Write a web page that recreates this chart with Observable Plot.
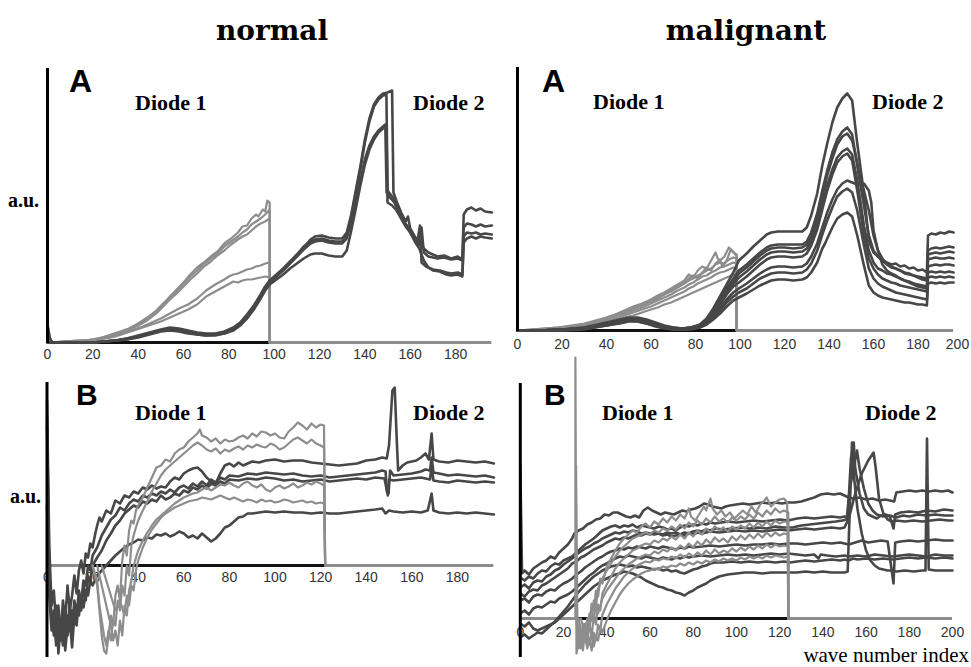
<!DOCTYPE html>
<html>
<head>
<meta charset="utf-8">
<script src="https://cdn.jsdelivr.net/npm/d3@7"></script>
<script src="https://cdn.jsdelivr.net/npm/@observablehq/plot@0.6"></script>
<style>
  html, body { margin: 0; padding: 0; background: #fff; }
  #wrap { position: relative; width: 971px; height: 667px; overflow: hidden; background: #fff; }
  #wrap > div.p { position: absolute; }
  #labels { position: absolute; left: 0; top: 0; pointer-events: none; }
</style>
</head>
<body>
<div id="wrap"></div>
<script>
// ---------------- DATA (arbitrary units) ----------------
const normTicks = [0, 20, 40, 60, 80, 100, 120, 140, 160, 180];
const maligTicks = [0, 20, 40, 60, 80, 100, 120, 140, 160, 180, 200];

// ---- normal, A ----
const normA_g1 = [[0,0],[4,0],[8,1],[12,1],[16,2],[20,3],[24,5],[28,7],[32,10],[36,14],[40,18],[44,24],[48,31],[51,38],[54,46],[57,53],[60,60],[63,68],[66,75],[69,80],[72,86],[75,91],[78,99],[81,104],[84,110],[86,116],[88,117],[90,124],[92,128],[93,126],[95,133],[96,131],[97,142],[98,140],[98,0]];
const normA_g2 = [[0,0],[4,0],[8,1],[12,2],[16,2],[20,3],[24,5],[28,8],[32,11],[36,14],[40,19],[44,25],[48,32],[51,39],[54,45],[57,51],[60,59],[63,66],[66,72],[69,79],[72,84],[75,89],[78,96],[81,101],[84,106],[86,110],[88,113],[90,118],[92,121],[94,124],[96,128],[98,133],[98,0]];
const normA_g3 = [[0,0],[8,1],[16,2],[20,3],[24,4],[28,7],[32,10],[36,13],[40,17],[44,22],[48,29],[51,36],[54,43],[57,49],[60,56],[63,63],[66,69],[69,76],[72,81],[75,87],[78,92],[81,98],[84,103],[86,106],[88,108],[90,112],[92,116],[94,119],[96,121],[98,124],[98,0]];
const normA_g4 = [[0,0],[8,1],[16,2],[22,3],[26,5],[30,7],[34,10],[38,13],[42,16],[46,20],[50,24],[54,29],[58,34],[62,38],[66,44],[70,52],[74,58],[78,63],[80,66],[82,68],[84,69],[86,71],[88,73],[90,74],[92,76],[94,77],[96,79],[98,80],[98,0]];
const normA_g5 = [[0,0],[8,1],[16,2],[22,3],[26,4],[30,6],[34,9],[38,12],[42,15],[46,18],[50,21],[54,25],[58,29],[62,33],[66,38],[70,46],[74,51],[78,56],[82,61],[84,60],[86,62],[88,63],[90,63],[92,64],[94,65],[96,66],[98,65],[98,0]];
const normA_d1 = [[0,18],[1,5],[2,0],[8,0],[14,0],[20,0],[25,1],[30,2],[35,4],[40,6],[45,9],[50,12],[54,14],[58,13],[62,11],[66,9],[70,8],[74,8],[78,10],[82,14],[85,19],[88,26],[91,35],[94,46],[96,54],[98,61],[101,67],[104,73],[107,80],[110,87],[113,95],[116,103],[118,106],[121,107],[124,105],[127,104],[130,104],[132,110],[134,128],[136,152],[138,176],[140,203],[142,224],[144,238],[146,245],[148,249],[150,250],[152,252],[152.6,150],[154,141],[156,130],[158,121],[159,126],[160,114],[162,106],[164,101],[166,94],[168,90],[170,88],[172,86],[175,87],[178,84],[181,86],[183,83],[183.6,128],[185,133],[187,135],[189,132],[191,134],[193,131],[196,130]];
const normA_d2 = [[0,16],[1,4],[2,0],[8,0],[14,0],[20,0],[25,1],[30,2],[35,4],[40,7],[45,10],[50,13],[54,15],[58,14],[62,12],[66,10],[70,9],[74,9],[78,11],[82,15],[85,20],[88,28],[91,37],[94,48],[96,56],[98,62],[101,68],[104,74],[107,81],[110,88],[113,96],[116,101],[118,103],[121,104],[124,102],[127,101],[130,101],[132,107],[134,126],[136,150],[138,173],[140,200],[142,221],[144,236],[146,243],[148,247],[149.5,248],[150,152],[152,146],[154,138],[156,127],[158,118],[160,110],[162,103],[164,98],[165,115],[166,90],[168,86],[170,85],[172,84],[175,85],[178,83],[181,84],[183,82],[183.6,115],[185,119],[187,118],[189,116],[191,118],[193,116],[196,117]];
const normA_d3 = [[0,0],[8,0],[20,0],[25,1],[30,2],[35,3],[40,6],[45,9],[50,12],[54,13],[58,12],[62,10],[66,8],[70,7],[74,8],[78,9],[82,13],[85,18],[88,25],[91,34],[94,45],[96,53],[98,60],[101,66],[104,72],[107,79],[110,86],[113,93],[116,99],[118,101],[121,102],[124,100],[127,99],[130,99],[132,104],[134,120],[136,140],[138,162],[140,183],[142,197],[144,206],[146,212],[148,216],[149,218],[149.6,150],[151,145],[153,140],[155,130],[157,121],[159,116],[161,108],[163,98],[164.3,117],[165,80],[167,76],[170,73],[173,72],[176,70],[178,69],[181,70],[183,68],[183.6,106],[185,110],[187,109],[189,110],[191,108],[193,109],[196,108]];
const normA_d4 = [[0,0],[8,0],[20,0],[25,1],[30,2],[35,3],[40,5],[45,8],[50,11],[54,12],[58,11],[62,9],[66,8],[70,7],[74,7],[78,9],[82,12],[85,17],[88,24],[91,33],[94,44],[96,52],[98,58],[101,63],[104,68],[107,74],[110,79],[113,84],[116,88],[118,89],[121,89],[124,87],[127,86],[130,86],[132,92],[134,112],[136,134],[138,157],[140,178],[142,193],[144,203],[146,210],[148,214],[149.5,216],[150,140],[152,137],[154,132],[156,124],[158,116],[160,110],[162,101],[164,94],[166,82],[168,75],[170,72],[173,71],[176,68],[178,67],[181,68],[183,66],[183.6,100],[185,104],[187,106],[189,104],[191,106],[193,105],[196,104]];

// ---- malignant, A ----
const malA_g1 = [[0,0],[6,1],[12,2],[18,3],[24,5],[30,7],[35,10],[40,13],[44,16],[48,20],[52,24],[56,27],[60,31],[63,35],[66,38],[69,42],[72,46],[75,50],[77,56],[79,53],[81,60],[83,64],[85,62],[87,70],[89,78],[90,72],[91,70],[93,74],[95,83],[96,81],[97,78],[98.5,76],[98.5,0]];
const malA_g2 = [[0,0],[6,1],[12,2],[18,3],[24,4],[30,6],[35,9],[40,12],[44,15],[48,18],[52,22],[56,25],[60,29],[63,32],[66,36],[69,39],[72,43],[75,47],[77,50],[79,52],[81,55],[83,57],[85,60],[87,62],[89,66],[91,68],[93,67],[95,71],[97,73],[98.5,72],[98.5,0]];
const malA_g3 = [[0,0],[12,1],[18,2],[24,4],[30,6],[35,8],[40,11],[44,14],[48,17],[52,20],[56,23],[60,27],[63,30],[66,33],[69,36],[72,40],[75,43],[77,46],[79,48],[81,51],[83,54],[85,55],[87,58],[89,60],[91,63],[93,64],[95,66],[97,68],[98.5,67],[98.5,0]];
const malA_g4 = [[0,0],[12,1],[24,3],[30,5],[35,7],[40,10],[44,12],[48,15],[52,18],[56,21],[60,24],[63,27],[66,30],[69,33],[72,36],[75,39],[77,42],[79,44],[81,47],[83,49],[85,51],[87,53],[89,56],[91,58],[93,59],[95,61],[97,63],[98.5,62],[98.5,0]];
const malA_g5 = [[0,0],[12,1],[24,3],[30,4],[35,6],[40,8],[44,10],[48,13],[52,15],[56,18],[60,21],[63,23],[66,26],[69,28],[72,31],[75,34],[77,36],[79,38],[81,40],[83,42],[85,44],[87,46],[89,48],[91,50],[93,52],[95,54],[97,56],[98.5,56],[98.5,0]];
const malA_g6 = [[0,0],[12,1],[24,4],[30,6],[35,9],[40,13],[44,16],[48,19],[52,23],[56,26],[60,30],[63,34],[66,37],[69,41],[72,45],[75,48],[77,52],[79,55],[81,52],[83,58],[85,63],[87,60],[89,67],[91,71],[92,64],[94,70],[95.7,80],[97,79],[98.5,74],[98.5,0]];
const malA_d1 = [[0,0],[10,0],[20,1],[30,3],[40,8],[46,11],[50,13],[54,13],[58,11],[62,8],[66,5],[70,3],[74,2],[78,3],[82,6],[85,12],[88,22],[91,34],[94,46],[97,58],[99.5,70],[103,77],[106,84],[109,90],[112,96],[114,98],[117,99],[120,99],[124,99],[128,99],[130,103],[132,115],[134.7,137],[137,165],[139.2,187],[141.5,208],[143.7,223],[146,232],[148.2,237],[150.4,230],[152.7,187],[155.7,137],[157.9,90],[160,78],[162,74],[164,70],[166,68],[168,66],[170,67],[172,64],[174,65],[176,62],[178,63],[180,60],[182,61],[184,58],[184.5,95],[186,97],[188,96],[190,98],[192,97],[194,99],[196,98]];
const malA_d2 = [[0,0],[10,0],[20,1],[30,3],[40,7],[46,10],[50,12],[54,12],[58,10],[62,7],[66,4],[70,3],[74,2],[78,3],[82,5],[85,11],[88,20],[91,31],[94,42],[97,52],[99.5,60],[103,66],[106,72],[109,78],[112,83],[114,85],[117,86],[120,86],[124,86],[128,86],[130,89],[132,98],[134.7,117],[137,140],[139.2,160],[141.5,178],[143.7,191],[146,199],[148.2,203],[150.4,196],[152.7,165],[155.7,125],[157.9,95],[160,80],[162,74],[164,70],[166,66],[168,63],[170,62],[172,60],[174,58],[176,57],[178,55],[180,54],[182,53],[184,52],[184.5,80],[186,82],[188,83],[190,82],[192,83],[194,84],[196,83]];
const malA_d3 = [[0,0],[10,0],[20,1],[30,2],[40,7],[46,10],[50,12],[54,12],[58,10],[62,7],[66,4],[70,2],[74,2],[78,3],[82,5],[85,10],[88,19],[91,29],[94,40],[97,50],[99.5,57],[103,63],[106,69],[109,75],[112,80],[114,82],[117,83],[120,83],[124,82],[128,83],[130,86],[132,94],[134.7,112],[137,134],[139.2,155],[141.5,172],[143.7,186],[146,194],[148.2,197],[150.4,190],[152.7,168],[154,150],[155.7,140],[157.9,120],[160,95],[162,80],[164,72],[166,67],[168,64],[170,62],[172,60],[174,57],[176,56],[178,55],[180,53],[182,51],[184,50],[184.5,76],[186,77],[188,78],[190,77],[192,78],[194,79],[196,78]];
const malA_d4 = [[0,0],[10,0],[20,1],[30,2],[40,6],[46,9],[50,11],[54,11],[58,9],[62,6],[66,4],[70,2],[74,1],[78,2],[82,5],[85,10],[88,18],[91,28],[94,38],[97,47],[99.5,53],[103,59],[106,65],[109,71],[112,76],[114,78],[117,79],[120,79],[124,78],[128,79],[130,82],[132,90],[134.7,106],[137,126],[139.2,145],[141.5,161],[143.7,173],[146,179],[148.2,182],[150.4,176],[152.7,150],[155.7,105],[157.9,80],[160,68],[162,62],[164,60],[166,57],[168,56],[170,54],[172,52],[174,50],[176,49],[178,47],[180,46],[182,45],[184,44],[184.5,71],[186,72],[188,73],[190,72],[192,72],[194,73],[196,72]];
const malA_d5 = [[0,0],[10,0],[20,1],[30,2],[40,6],[46,9],[50,11],[54,10],[58,8],[62,6],[66,3],[70,2],[74,1],[78,2],[82,4],[85,9],[88,17],[91,26],[94,36],[97,44],[99.5,48],[103,54],[106,60],[109,66],[112,71],[114,73],[117,74],[120,74],[124,73],[128,74],[130,77],[132,85],[134.7,101],[137,121],[139.2,140],[141.5,156],[143.7,168],[146,174],[148.2,177],[150.4,170],[152.7,140],[155.7,95],[157.9,72],[160,62],[162,56],[164,52],[166,50],[168,48],[170,47],[172,45],[174,44],[176,43],[178,42],[180,41],[182,40],[184,39],[184.5,64],[186,65],[188,66],[190,65],[192,66],[194,66],[196,65]];
const malA_d6 = [[0,0],[10,0],[20,1],[30,2],[40,6],[46,8],[50,10],[54,10],[58,8],[62,5],[66,3],[70,2],[74,1],[78,2],[82,4],[85,8],[88,15],[91,23],[94,31],[97,38],[99.5,42],[103,47],[106,52],[109,57],[112,61],[114,63],[117,64],[120,64],[124,63],[128,64],[130,67],[132,74],[134.7,87],[137,103],[139.2,118],[141.5,131],[143.7,141],[146,147],[148.2,150],[150.4,148],[152.7,146],[155.7,147],[157.9,140],[159,128],[160,100],[162,80],[164,66],[166,60],[168,57],[170,55],[172,52],[174,50],[176,48],[178,46],[180,44],[182,43],[184,42],[184.5,58],[186,59],[188,58],[190,59],[192,58],[194,59],[196,58]];
const malA_d7 = [[0,0],[10,0],[20,0],[30,2],[40,5],[46,8],[50,10],[54,9],[58,7],[62,5],[66,3],[70,1],[74,1],[78,2],[82,3],[85,7],[88,13],[91,20],[94,28],[97,34],[99.5,38],[103,42],[106,47],[109,52],[112,55],[114,57],[117,58],[120,58],[124,57],[128,58],[130,61],[132,67],[134.7,80],[137,96],[139.2,110],[141.5,123],[143.7,134],[146,139],[148.2,142],[150.4,138],[152.7,120],[155.7,85],[157.9,62],[160,52],[162,47],[164,44],[166,42],[168,40],[170,38],[172,37],[174,36],[176,35],[178,34],[180,33],[182,32],[184,31],[184.5,53],[186,54],[188,53],[190,54],[192,53],[194,54],[196,53]];
const malA_d8 = [[0,0],[10,0],[20,0],[30,1],[40,5],[46,7],[50,9],[54,9],[58,7],[62,4],[66,2],[70,1],[74,1],[78,1],[82,3],[85,6],[88,11],[91,17],[94,24],[97,30],[99.5,33],[103,37],[106,41],[109,45],[112,48],[114,50],[117,51],[120,51],[124,50],[128,51],[130,53],[132,58],[134.7,68],[136,76],[137,82],[138,86],[139.2,92],[141.5,103],[143.7,112],[146,116],[148.2,118],[150.4,114],[152.7,95],[155.7,65],[157.9,45],[160,38],[162,35],[164,33],[166,32],[168,31],[170,30],[172,29],[174,28],[176,28],[178,27],[180,26],[182,26],[184,25],[184.5,47],[186,48],[188,47],[190,48],[192,47],[194,48],[196,48]];

// ---- normal, B ----
const normB_g1 = [[20,0],[22,-20],[23,-45],[24,-70],[25,-85],[26,-88],[27,-70],[28,-50],[29,-60],[30,-30],[31,-20],[32,-35],[33,5],[34,20],[35,10],[36,35],[37,45],[38,42],[39,55],[40,60],[42,68],[44,78],[46,88],[48,98],[50,100],[52,106],[54,104],[56,112],[58,116],[60,118],[62,124],[64,128],[66,132],[67,136],[68,130],[70,128],[72,124],[74,127],[76,122],[78,126],[80,124],[82,125],[84,128],[86,130],[88,127],[90,132],[92,129],[94,134],[96,133],[98,130],[100,132],[102,128],[104,127],[106,134],[108,138],[110,143],[112,140],[114,136],[116,142],[118,138],[120,141],[121.5,140],[122,0]];
const normB_g2 = [[20,0],[22,-15],[23,-40],[24,-55],[25,-70],[26,-80],[27,-65],[28,-75],[29,-55],[30,-60],[31,-35],[32,-45],[33,-20],[34,-30],[35,0],[36,-10],[37,20],[38,30],[39,38],[40,45],[42,55],[44,64],[46,74],[48,82],[50,90],[52,96],[54,100],[56,104],[58,108],[60,112],[62,116],[64,120],[66,123],[68,120],[70,116],[72,114],[74,117],[76,112],[78,116],[80,114],[82,117],[84,119],[86,116],[88,120],[90,118],[92,121],[94,119],[96,118],[98,122],[100,120],[102,116],[104,118],[106,122],[108,126],[110,128],[112,125],[114,122],[116,126],[118,122],[120,120],[121.5,118],[122,0]];
const normB_g3 = [[22,0],[24,-20],[26,-40],[28,-60],[29,-75],[30,-65],[31,-80],[32,-55],[33,-70],[34,-40],[35,-50],[36,-25],[37,-15],[38,0],[40,15],[42,25],[44,33],[46,40],[48,46],[50,50],[52,54],[54,58],[56,62],[58,65],[60,68],[62,70],[64,72],[66,73],[68,76],[70,78],[72,75],[74,78],[76,81],[78,80],[80,83],[82,80],[84,78],[86,82],[88,84],[90,80],[92,78],[94,81],[96,76],[98,74],[100,78],[102,80],[104,77],[106,79],[108,82],[110,78],[112,80],[114,83],[116,81],[118,84],[120,82],[121.5,80],[122,0]];
const normB_g4 = [[24,0],[26,-15],[28,-30],[30,-45],[32,-35],[34,-50],[35,-30],[36,-40],[37,-20],[38,-25],[39,-5],[40,5],[42,18],[44,28],[46,36],[48,42],[50,48],[52,52],[54,55],[56,58],[58,60],[60,62],[62,64],[64,65],[66,66],[68,68],[70,67],[72,66],[74,68],[76,70],[78,68],[80,66],[82,68],[84,66],[86,64],[88,66],[90,65],[92,63],[94,66],[96,64],[98,65],[100,63],[102,64],[104,66],[106,65],[108,63],[110,64],[112,65],[114,63],[116,64],[118,62],[120,63],[121.5,62],[122,0]];
const normB_d1 = [[0,165],[1,20],[2,-40],[3,-25],[4,-60],[5,-45],[6,-70],[7,-35],[8,-55],[9,-20],[10,-45],[11,-30],[12,-10],[13,-28],[14,-5],[15,5],[16,-8],[17,12],[18,8],[19,22],[20,18],[21,30],[22,40],[23,48],[24,44],[26,55],[28,52],[30,65],[32,62],[34,70],[36,68],[38,74],[40,72],[42,78],[44,76],[46,80],[48,77],[50,79],[52,78],[54,84],[56,88],[58,86],[60,92],[62,95],[64,97],[66,98],[68,94],[70,88],[72,84],[74,82],[76,92],[78,100],[80,102],[82,99],[84,103],[86,100],[88,102],[90,104],[93,103],[96,105],[100,106],[104,104],[108,105],[112,105],[116,103],[120,102],[124,101],[128,100],[132,101],[136,102],[140,105],[144,106],[147,108],[149,107],[150,120],[151.5,175],[152.5,178],[153.5,120],[154,95],[156,100],[158,103],[160,104],[162,105],[164,108],[166,112],[167.5,106],[168.7,132],[169.5,106],[172,104],[176,103],[180,105],[184,104],[188,103],[192,104],[196,102]];
const normB_d2 = [[0,150],[1,-10],[2,-60],[3,-45],[4,-80],[5,-55],[6,-75],[7,-50],[8,-85],[9,-60],[10,-40],[11,-65],[12,-35],[13,-50],[14,-25],[15,-38],[16,-15],[17,-20],[18,0],[19,-5],[20,10],[22,18],[24,30],[26,38],[28,46],[30,50],[32,58],[34,55],[36,62],[38,66],[40,64],[42,70],[44,68],[46,72],[48,70],[50,74],[52,72],[54,76],[56,73],[58,78],[60,80],[62,77],[64,82],[66,79],[68,84],[70,80],[72,86],[74,83],[76,88],[78,86],[80,90],[84,89],[88,92],[92,91],[96,93],[100,92],[104,91],[108,92],[112,90],[116,89],[120,90],[124,88],[128,89],[132,90],[136,91],[140,92],[144,93],[147,95],[148.5,94],[149,75],[149.8,72],[150.5,95],[152,90],[156,91],[160,92],[164,94],[166,96],[168,95],[168.7,108],[169.5,93],[172,92],[176,90],[180,91],[184,90],[188,89],[192,90],[196,88]];
const normB_d3 = [[0,140],[1,-20],[2,-50],[3,-70],[4,-40],[5,-88],[6,-60],[7,-80],[8,-45],[9,-70],[10,-55],[11,-82],[12,-50],[13,-60],[14,-30],[15,-45],[16,-20],[17,-35],[18,-10],[19,-18],[20,0],[22,8],[24,15],[26,25],[28,32],[30,40],[32,45],[34,52],[36,56],[38,60],[40,58],[42,64],[44,62],[46,66],[48,64],[50,70],[52,66],[54,68],[56,72],[58,70],[60,75],[62,73],[64,78],[66,76],[68,80],[70,77],[72,82],[74,80],[76,84],[78,82],[80,86],[84,85],[88,87],[92,86],[96,88],[100,87],[104,85],[108,86],[112,84],[116,85],[120,86],[124,84],[128,85],[132,86],[136,87],[140,86],[144,88],[148,87],[149.5,70],[150,86],[152,85],[156,86],[160,87],[164,88],[168,86],[168.7,100],[169.5,85],[172,84],[176,83],[180,85],[184,84],[188,83],[192,84],[196,83]];
const normB_d4 = [[0,60],[1,-30],[2,-65],[3,-50],[4,-75],[5,-40],[6,-68],[7,-55],[8,-78],[9,-50],[10,-62],[11,-45],[12,-58],[13,-40],[14,-50],[15,-30],[16,-42],[17,-25],[18,-30],[19,-15],[20,-20],[22,-10],[24,-5],[26,0],[28,5],[30,10],[32,14],[34,18],[36,21],[38,23],[40,26],[42,25],[44,28],[46,27],[48,31],[50,30],[52,32],[54,29],[56,31],[58,34],[60,32],[62,28],[64,30],[66,27],[68,32],[70,28],[72,24],[74,27],[76,32],[78,38],[80,40],[82,44],[84,48],[86,49],[88,52],[90,52],[93,53],[96,54],[100,53],[104,54],[108,53],[112,53],[116,52],[120,53],[124,52],[128,52],[132,53],[136,54],[140,55],[144,56],[147,57],[148.5,52],[150,55],[152,54],[156,53],[160,54],[164,53],[167,55],[168.7,72],[169.5,55],[172,53],[176,52],[180,53],[184,52],[188,53],[192,52],[196,51]];

// ---- malignant, B ----
const malB_g1 = [[25.5,0],[25.5,261],[26,-35],[27,-20],[28,-30],[29,-10],[30,-22],[31,0],[32,-8],[33,15],[34,8],[35,28],[36,22],[37,40],[38,35],[40,52],[42,60],[44,68],[46,75],[48,80],[50,84],[52,88],[54,86],[56,92],[58,95],[60,91],[62,97],[64,94],[66,100],[68,96],[70,102],[72,98],[74,104],[76,100],[78,110],[79,102],[81,98],[83,105],[85,112],[86,108],[88,120],[89,110],[91,104],[93,108],[95,102],[97,106],[99,100],[101,104],[103,108],[105,104],[107,112],[109,106],[111,114],[113,118],[114,121],[116,112],[118,116],[120,119],[122,120],[123.5,116],[124,0]];
const malB_g2 = [[25.8,0],[25.8,153],[26.5,-25],[27.5,-10],[28.5,-28],[30,-5],[31,-15],[32,5],[33,-2],[34,18],[35,12],[36,30],[38,40],[40,48],[42,55],[44,62],[46,68],[48,72],[50,76],[52,80],[54,82],[56,84],[58,86],[60,84],[62,88],[64,86],[66,90],[68,88],[70,92],[72,89],[74,94],[76,90],[78,96],[80,92],[82,98],[84,94],[86,100],[88,96],[90,102],[92,97],[94,100],[96,96],[98,101],[100,98],[102,102],[104,99],[106,104],[108,100],[110,106],[112,102],[114,108],[116,104],[118,110],[120,106],[122,108],[124,106],[124,0]];
const malB_g3 = [[26,0],[27,-30],[28,-15],[29,-32],[30,-12],[31,-25],[32,-5],[33,-18],[34,2],[35,-6],[36,14],[37,8],[38,25],[40,34],[42,42],[44,50],[46,56],[48,60],[50,64],[52,68],[54,70],[56,73],[58,75],[60,74],[62,78],[64,76],[66,80],[68,78],[70,82],[72,79],[74,84],[76,80],[78,86],[80,82],[82,88],[84,84],[86,90],[88,86],[90,92],[92,88],[94,91],[96,87],[98,92],[100,89],[102,93],[104,90],[106,95],[108,91],[110,96],[112,92],[114,97],[116,93],[118,98],[120,95],[122,97],[124,96],[124,0]];
const malB_g4 = [[26,0],[27,-10],[28,-22],[29,-5],[30,-18],[31,0],[32,-12],[33,8],[34,-2],[35,15],[36,5],[38,20],[40,28],[42,34],[44,40],[46,46],[48,50],[50,54],[52,57],[54,60],[56,62],[58,64],[60,63],[62,67],[64,65],[66,69],[68,67],[70,71],[72,68],[74,73],[76,70],[78,75],[80,71],[82,77],[84,73],[86,79],[88,75],[90,81],[92,77],[94,80],[96,76],[98,82],[100,78],[102,83],[104,79],[106,84],[108,80],[110,85],[112,81],[114,86],[116,82],[118,86],[120,83],[122,85],[124,84],[124,0]];
const malB_g5 = [[27,0],[28,-12],[29,-24],[30,-18],[31,-30],[32,-20],[33,-32],[34,-14],[35,-22],[36,-6],[37,-12],[38,4],[40,14],[42,22],[44,30],[46,36],[48,42],[50,46],[52,50],[54,53],[56,55],[58,57],[60,56],[62,59],[64,58],[66,60],[68,59],[70,62],[72,60],[74,64],[76,61],[78,65],[80,62],[82,66],[84,63],[86,68],[88,64],[90,69],[92,65],[94,68],[96,66],[98,70],[100,67],[102,71],[104,68],[106,72],[108,69],[110,73],[112,70],[114,74],[116,71],[118,74],[120,72],[122,73],[124,72],[124,0]];
const malB_g6 = [[28,0],[29,-8],[30,-20],[31,-12],[32,-26],[33,-15],[34,-28],[35,-18],[36,-22],[37,-10],[38,-14],[40,-2],[42,8],[44,16],[46,24],[48,30],[50,35],[52,39],[54,42],[56,45],[58,47],[60,48],[62,50],[64,49],[66,52],[68,51],[70,53],[72,52],[74,55],[76,53],[78,56],[80,54],[82,57],[84,55],[86,58],[88,56],[90,59],[92,57],[94,60],[96,58],[98,60],[100,58],[102,61],[104,59],[106,62],[108,60],[110,62],[112,60],[114,63],[116,61],[118,63],[120,62],[122,61],[124,62],[124,0]];
const malB_d1 = [[0,153],[0.8,45],[2,48],[4,44],[6,50],[8,53],[10,56],[12,58],[14,62],[16,60],[18,66],[20,70],[22,74],[24,80],[25,85],[27,88],[29,90],[31,94],[33,96],[35,99],[37,100],[39,104],[41,103],[43,106],[45,106],[47,104],[49,102],[51,101],[53,103],[55,101],[57,108],[59,111],[61,108],[63,106],[65,104],[67,106],[69,105],[71,104],[73,106],[75,108],[77,107],[79,109],[81,110],[83,112],[85,115],[87,114],[89,112],[91,111],[93,110],[95,112],[97,113],[100,114],[103,115],[106,114],[109,115],[112,116],[115,115],[118,116],[121,115],[124,116],[127,116],[130,117],[133,119],[136,121],[139,124],[142,125],[145,124],[148,125],[150,123],[152,121],[154,120],[157,121],[160,119],[163,120],[166,118],[169,119],[171,118],[173,117],[174,126],[177,127],[180,128],[183,127],[186,128],[189,127],[192,128],[195,127],[198,128],[200,126]];
const malB_d2 = [[0,41],[2,38],[4,42],[6,40],[8,45],[10,48],[12,47],[14,52],[16,55],[18,54],[20,58],[22,60],[24,62],[26,66],[28,70],[30,74],[32,77],[34,80],[36,84],[38,88],[40,90],[42,92],[44,93],[46,91],[48,93],[50,92],[52,94],[54,91],[56,93],[58,92],[60,91],[62,90],[64,92],[66,91],[68,89],[70,90],[72,88],[74,91],[76,93],[78,92],[80,94],[82,93],[84,95],[86,94],[88,96],[90,95],[93,96],[96,97],[100,96],[104,97],[108,98],[112,97],[116,98],[120,99],[124,98],[128,100],[132,101],[136,100],[140,101],[144,102],[148,101],[150,102],[151.5,101],[153,160],[154.3,176],[155,150],[157,125],[159,110],[161,104],[163,102],[165,100],[167,103],[169,104],[171,102],[172.7,90],[173.5,104],[176,106],[180,107],[184,106],[188,108],[192,107],[196,109],[200,108]];
const malB_d3 = [[0,31],[2,34],[4,30],[6,36],[8,38],[10,37],[12,42],[14,44],[16,48],[18,50],[20,54],[22,57],[24,60],[26,64],[28,67],[30,70],[32,72],[34,75],[36,77],[38,80],[40,82],[42,84],[44,86],[46,85],[48,87],[50,86],[52,88],[54,87],[56,85],[58,86],[60,85],[62,84],[64,85],[66,83],[68,84],[70,82],[72,83],[74,84],[76,86],[78,85],[80,87],[82,88],[84,87],[86,89],[88,88],[90,90],[94,89],[98,90],[102,91],[106,90],[110,91],[114,90],[118,92],[122,91],[126,91],[130,93],[134,94],[138,95],[142,96],[146,97],[149,98],[151,99],[152.5,130],[155.8,168],[157,150],[159,130],[161,115],[163,108],[165,104],[168,102],[171,103],[174,101],[177,103],[180,102],[184,104],[188,103],[192,104],[196,103],[200,103]];
const malB_d4 = [[0,25],[2,22],[4,27],[6,29],[8,28],[10,33],[12,35],[14,38],[16,41],[18,44],[20,47],[22,50],[24,55],[26,57],[28,61],[30,63],[32,66],[34,69],[36,71],[38,73],[40,76],[42,78],[44,80],[46,79],[48,81],[50,80],[52,82],[54,84],[56,83],[58,85],[60,84],[62,86],[64,85],[66,84],[68,86],[70,85],[72,86],[74,84],[76,83],[78,85],[80,84],[82,86],[84,85],[86,86],[88,87],[92,86],[96,87],[100,88],[104,87],[108,88],[112,87],[116,88],[120,89],[124,88],[128,89],[132,90],[136,89],[140,90],[144,91],[148,90],[150,91],[152,100],[155,125],[158,145],[161,158],[163.5,166],[164.5,150],[166,120],[168,105],[170,99],[172,97],[174,98],[178,97],[182,98],[186,97],[190,98],[194,99],[198,98],[200,98]];
const malB_d5 = [[0,18],[2,20],[4,16],[6,22],[8,24],[10,23],[12,27],[14,29],[16,28],[18,32],[20,35],[22,37],[24,40],[26,44],[28,47],[30,51],[32,54],[34,57],[36,60],[38,62],[40,65],[42,67],[44,68],[46,70],[48,69],[50,71],[52,70],[54,72],[56,71],[58,70],[60,72],[62,71],[64,70],[66,72],[68,71],[70,70],[72,69],[74,71],[76,70],[78,72],[80,71],[84,72],[88,73],[92,72],[96,73],[100,74],[104,73],[108,74],[112,74],[116,75],[120,74],[124,75],[128,75],[132,74],[136,75],[140,76],[144,75],[148,76],[150,75],[152,74],[155,76],[158,78],[161,76],[164,77],[167,78],[170,77],[172.7,35],[173.5,76],[176,77],[180,78],[184,77],[188,78],[192,79],[196,78],[200,78]];
const malB_d6 = [[0,5],[2,8],[4,4],[6,10],[8,12],[10,11],[12,14],[14,17],[16,16],[18,20],[20,22],[22,24],[24,27],[26,31],[28,35],[30,39],[32,43],[34,46],[36,50],[38,53],[40,55],[42,58],[44,60],[46,62],[48,61],[50,63],[52,62],[54,61],[56,60],[58,62],[60,61],[62,60],[64,59],[66,61],[68,60],[70,59],[72,61],[74,60],[76,62],[78,61],[80,62],[84,63],[88,62],[92,63],[96,64],[100,63],[104,64],[108,63],[112,64],[116,65],[120,64],[124,65],[128,64],[132,63],[136,64],[138,60],[139,64],[142,63],[146,62],[150,63],[152,62],[156,63],[160,62],[164,64],[168,63],[172,62],[176,63],[180,64],[184,63],[188,62],[192,64],[196,63],[200,63]];
const malB_d7 = [[0,-5],[2,-8],[4,-4],[6,-10],[8,-12],[10,-10],[12,-8],[14,-6],[16,-4],[18,0],[20,4],[22,8],[24,12],[26,16],[28,20],[30,24],[32,28],[34,32],[36,35],[38,38],[40,40],[42,42],[44,44],[46,45],[48,47],[50,46],[52,45],[54,43],[56,41],[58,38],[60,36],[62,34],[64,32],[66,31],[68,29],[70,28],[72,26],[74,25],[76,23],[78,26],[80,28],[82,31],[84,33],[86,35],[88,38],[90,40],[92,42],[94,43],[96,44],[100,45],[104,46],[108,46],[112,45],[116,46],[120,46],[124,46],[128,46],[132,47],[136,46],[140,47],[144,46],[148,46],[150,46],[151.5,47],[153.5,176],[154.5,140],[156,110],[158,85],[160,68],[162,58],[164,53],[166,50],[168,49],[170,48],[172,48],[174,47],[178,48],[182,47],[186,48],[187.5,48],[188.2,180],[189,49],[192,48],[196,48],[200,48]];
const malB_d8 = [[0,-19],[2,-16],[4,-20],[6,-17],[8,-14],[10,-15],[12,-11],[14,-7],[16,-3],[18,2],[20,7],[22,12],[24,18],[26,24],[28,29],[30,34],[32,38],[34,42],[36,45],[38,48],[40,50],[42,52],[44,53],[46,54],[48,53],[50,52],[52,53],[54,51],[56,52],[58,51],[60,50],[62,49],[64,50],[66,48],[68,49],[70,47],[72,48],[74,46],[76,45],[78,47],[80,49],[82,50],[84,52],[86,53],[88,55],[90,56],[94,56],[98,57],[102,56],[106,57],[110,56],[114,57],[118,56],[122,57],[125,56],[128,57],[132,58],[136,57],[140,58],[144,59],[148,58],[150,59],[152,58],[154,60],[156,59],[160,60],[164,59],[168,60],[172,59],[176,60],[180,61],[184,60],[188,61],[192,60],[196,61],[200,60]];

// baseline segments (diode ranges) per panel
const normA_base = [{x1: 0, x2: 98, tone: "d"}, {x1: 98, x2: 196, tone: "g"}];
const malA_base  = [{x1: 0, x2: 98.5, tone: "d"}, {x1: 98.5, x2: 196, tone: "g"}];
const normB_base = [{x1: 0, x2: 16, tone: "g"}, {x1: 16, x2: 122, tone: "d"}, {x1: 122, x2: 196, tone: "g"}];
const malB_base  = [{x1: 0, x2: 26, tone: "g"}, {x1: 26, x2: 124, tone: "d"}, {x1: 124, x2: 200, tone: "g"}];

// ---------------- DRAWING ----------------
const DARK = "#474747", GRAY = "#8d8d8d";
function rows(list) {
  return list.flatMap((pts, i) => pts.map(([x, y]) => ({x, y, s: i})));
}
function panel(cfg) {
  const {left, top, width, height, px0, k, xmax, ymin, ymax, yTopPx, yBotPx, ticks, tickDy, lastDx, gray, dark, base, axisY1, grayOnTop} = cfg;
  const marginLeft = px0 - left;
  const marginRight = (left + width) - (px0 + k * xmax);
  const marginTop = yTopPx - top;
  const marginBottom = (top + height) - yBotPx;
  const grayLines = Plot.line(rows(gray), {x: "x", y: "y", z: "s", stroke: GRAY, strokeWidth: 2.2, strokeLinejoin: "round"});
  const darkLines = Plot.line(rows(dark), {x: "x", y: "y", z: "s", stroke: DARK, strokeWidth: 2.6, strokeLinejoin: "round"});
  const tickStyle = {x: d => d, y: () => 0, text: d => String(d), dy: tickDy, lineAnchor: "top", fontSize: 14, fill: "#333"};
  const mainTicks = lastDx ? ticks.slice(0, -1) : ticks;
  const chart = Plot.plot({
    width, height, marginLeft, marginRight, marginTop, marginBottom,
    x: {domain: [0, xmax], axis: null},
    y: {domain: [ymin, ymax], axis: null},
    style: {background: "transparent", overflow: "visible", fontFamily: "Liberation Sans, Arial, sans-serif"},
    marks: [
      Plot.text(mainTicks, tickStyle),
      lastDx ? Plot.text(ticks.slice(-1), {...tickStyle, dx: lastDx}) : null,
      Plot.ruleY(base, {x1: "x1", x2: "x2", y: () => 0, stroke: d => d.tone === "d" ? "#111" : GRAY, strokeWidth: 3}),
      ...(grayOnTop ? [darkLines, grayLines] : [grayLines, darkLines]),
      Plot.ruleX([0], {y1: axisY1, y2: ymax, stroke: "#000", strokeWidth: 3})
    ]
  });
  const div = document.createElement("div");
  div.className = "p";
  div.style.left = left + "px";
  div.style.top = top + "px";
  div.appendChild(chart);
  document.getElementById("wrap").appendChild(div);
}

panel({left: 0, top: 55, width: 495, height: 310, px0: 47, k: 2.267, xmax: 196, ymin: 0, ymax: 274, yTopPx: 68, yBotPx: 342,
  ticks: normTicks, tickDy: 7, gray: [normA_g1, normA_g2, normA_g3, normA_g4, normA_g5], dark: [normA_d1, normA_d2, normA_d3, normA_d4],
  base: normA_base, axisY1: -1, grayOnTop: false});
panel({left: 495, top: 55, width: 476, height: 310, px0: 517, k: 2.225, xmax: 196, ymin: 0, ymax: 263, yTopPx: 67, yBotPx: 330,
  ticks: maligTicks, tickDy: 9, lastDx: -5, gray: [malA_g1, malA_g2, malA_g3, malA_g4, malA_g5, malA_g6],
  dark: [malA_d1, malA_d2, malA_d3, malA_d4, malA_d5, malA_d6, malA_d7, malA_d8],
  base: malA_base, axisY1: -1, grayOnTop: false});
panel({left: 0, top: 370, width: 495, height: 297, px0: 46.5, k: 2.28, xmax: 196, ymin: -92, ymax: 183, yTopPx: 382, yBotPx: 657,
  ticks: normTicks, tickDy: 7, gray: [normB_g1, normB_g2, normB_g3, normB_g4], dark: [normB_d1, normB_d2, normB_d3, normB_d4],
  base: normB_base, axisY1: -92, grayOnTop: true});
panel({left: 495, top: 340, width: 476, height: 327, px0: 519.8, k: 2.161, xmax: 200, ymin: -39, ymax: 235, yTopPx: 383, yBotPx: 657,
  ticks: maligTicks, tickDy: 9, gray: [malB_g1, malB_g2, malB_g3, malB_g4, malB_g5, malB_g6],
  dark: [malB_d1, malB_d2, malB_d3, malB_d4, malB_d5, malB_d6, malB_d7, malB_d8],
  base: malB_base, axisY1: -39, grayOnTop: true});

// ---------------- TEXT LABELS ----------------
const svg = d3.select("#wrap").append("svg").attr("id", "labels").attr("width", 971).attr("height", 667);
const serif = "'Liberation Serif', 'Times New Roman', serif";
const labels = [
  {t: "normal", x: 272, y: 40, a: "middle", f: "'DejaVu Serif', serif", s: 28, w: "bold"},
  {t: "malignant", x: 746, y: 40, a: "middle", f: "'DejaVu Serif', serif", s: 28, w: "bold"},
  {t: "A", x: 69, y: 92, a: "start", f: "'Liberation Sans', Arial, sans-serif", s: 32, w: "bold"},
  {t: "A", x: 542, y: 92, a: "start", f: "'Liberation Sans', Arial, sans-serif", s: 32, w: "bold"},
  {t: "B", x: 76, y: 405, a: "start", f: "'Liberation Sans', Arial, sans-serif", s: 30, w: "bold"},
  {t: "B", x: 544, y: 405, a: "start", f: "'Liberation Sans', Arial, sans-serif", s: 30, w: "bold"},
  {t: "Diode 1", x: 135, y: 110, a: "start", f: serif, s: 22, w: "bold"},
  {t: "Diode 2", x: 413, y: 110, a: "start", f: serif, s: 22, w: "bold"},
  {t: "Diode 1", x: 593, y: 109, a: "start", f: serif, s: 22, w: "bold"},
  {t: "Diode 2", x: 872, y: 109, a: "start", f: serif, s: 22, w: "bold"},
  {t: "Diode 1", x: 135, y: 420, a: "start", f: serif, s: 22, w: "bold"},
  {t: "Diode 2", x: 413, y: 420, a: "start", f: serif, s: 22, w: "bold"},
  {t: "Diode 1", x: 602, y: 420, a: "start", f: serif, s: 22, w: "bold"},
  {t: "Diode 2", x: 865, y: 420, a: "start", f: serif, s: 22, w: "bold"},
  {t: "a.u.", x: 8, y: 207, a: "start", f: serif, s: 20, w: "bold"},
  {t: "a.u.", x: 10, y: 503, a: "start", f: serif, s: 20, w: "bold"},
  {t: "wave number index", x: 969, y: 662, a: "end", f: serif, s: 21, w: "normal"}
];
svg.selectAll("text").data(labels).join("text")
  .attr("x", d => d.x).attr("y", d => d.y)
  .attr("text-anchor", d => d.a)
  .attr("font-family", d => d.f).attr("font-size", d => d.s).attr("font-weight", d => d.w)
  .attr("fill", "#000")
  .text(d => d.t);
</script>
</body>
</html>
